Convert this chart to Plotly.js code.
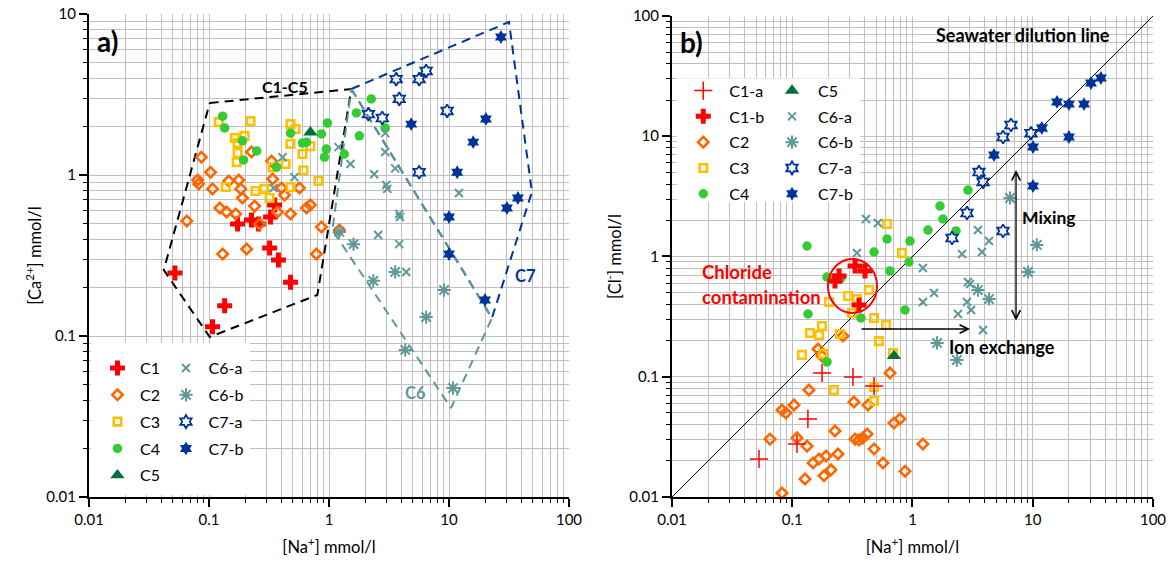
<!DOCTYPE html>
<html><head><meta charset="utf-8">
<script src="https://cdn.plot.ly/plotly-3.0.1.min.js"></script>
<style>html,body{margin:0;padding:0;background:#fff}</style>
</head><body>
<div id="chart" style="width:1176px;height:567px"></div>
<script>
// ================= Panel a) : [Ca2+] vs [Na+] (mmol/l) =================
const aC1Na = [0.052, 0.107, 0.135, 0.173, 0.226, 0.259, 0.326, 0.352, 0.32, 0.379, 0.478];
const aC1Ca = [0.246, 0.114, 0.154, 0.496, 0.525, 0.496, 0.548, 0.652, 0.352, 0.297, 0.216];
const aC2Na = [0.0865, 0.103, 0.0805, 0.082, 0.107, 0.146, 0.177, 0.184, 0.19, 0.123, 0.14, 0.167, 0.24, 0.226, 0.332, 0.339, 0.402, 0.426, 0.567, 0.372, 0.478, 0.649, 0.70, 0.264, 0.865, 0.0653, 0.13, 0.206, 0.785, 1.22];
const aC2Ca = [1.29, 1.04, 0.93, 0.88, 0.82, 0.918, 0.93, 0.82, 0.72, 0.624, 0.589, 0.573, 0.641, 1.39, 1.22, 0.944, 0.83, 0.75, 0.83, 0.589, 0.573, 0.624, 0.652, 0.496, 0.475, 0.518, 0.323, 0.347, 0.323, 0.455];
const aC3Na = [0.1205, 0.222, 0.198, 0.164, 0.173, 0.173, 0.17, 0.478, 0.526, 0.478, 0.601, 0.70, 0.435, 0.339, 0.612, 0.817, 0.478, 0.244, 0.29, 0.32, 0.138];
const aC3Ca = [2.13, 2.16, 1.75, 1.70, 1.58, 1.37, 1.20, 2.07, 1.93, 1.56, 1.35, 1.51, 1.17, 1.12, 1.07, 0.918, 0.842, 0.795, 0.82, 0.72, 0.842];
const aC4Na = [0.13, 0.135, 0.19, 0.25, 0.194, 0.366, 0.478, 0.97, 0.865, 0.601, 0.649, 0.95, 0.917, 1.34, 1.79, 1.69, 2.25, 2.94];
const aC4Ca = [2.32, 1.96, 1.63, 1.41, 1.24, 1.12, 1.82, 2.10, 1.80, 1.58, 1.60, 1.45, 1.29, 1.35, 1.75, 2.43, 2.97, 1.96];
const aC5Na = [0.70];
const aC5Ca = [1.84];
const aC6aNa = [0.41, 0.515, 0.345, 1.20, 1.51, 2.94, 2.38, 3.56, 3.0, 3.06, 3.85, 3.9, 2.57, 3.85, 4.4, 12.1, 2.94];
const aC6aCa = [1.29, 0.97, 0.83, 1.49, 1.17, 1.39, 1.01, 1.10, 0.867, 0.82, 0.573, 0.548, 0.424, 0.372, 0.25, 0.773, 1.82];
const aC6bNa = [1.22, 1.60, 2.34, 3.56, 9.1, 6.45, 4.32, 10.8];
const aC6bCa = [0.443, 0.372, 0.22, 0.25, 0.193, 0.131, 0.0819, 0.0475];
const aC7aNa = [3.63, 5.64, 6.45, 3.85, 2.13, 2.78, 9.64, 5.64];
const aC7aCa = [3.94, 3.94, 4.43, 2.97, 2.39, 2.26, 2.50, 1.04];
const aC7bNa = [27.1, 4.84, 20.3, 15.9, 11.7, 37.5, 30.4, 10.0, 10.0, 19.95];
const aC7bCa = [7.2, 2.07, 2.23, 1.60, 1.04, 0.72, 0.624, 0.548, 0.323, 0.1675];
// group outlines (panel a)
const zoneC15Na = [0.1014, 1.535, 0.80, 0.1014, 0.042, 0.1014];
const zoneC15Ca = [2.80, 3.42, 0.18, 0.0986, 0.257, 2.80];
const zoneC6Na = [1.535, 22.8, 10.4, 1.067, 1.535];
const zoneC6Ca = [3.42, 0.1294, 0.0357, 0.455, 3.42];
const zoneC7Na = [1.535, 31.6, 49.1, 22.8, 1.535];
const zoneC7Ca = [3.42, 8.92, 0.784, 0.1294, 3.42];

// ================= Panel b) : [Cl-] vs [Na+] (mmol/l) =================
const bC1aNa = [0.0529, 0.135, 0.1095, 0.177, 0.32, 0.479];
const bC1aCl = [0.0207, 0.0446, 0.0276, 0.1074, 0.0995, 0.0838];
const bC1bNa = [0.2267, 0.245, 0.333, 0.403, 0.359];
const bC1bCl = [0.625, 0.689, 0.834, 0.758, 0.395];
const bC2Na = [0.1377, 0.1034, 0.0822, 0.0887, 0.0653, 0.1095, 0.1327, 0.2267, 0.326, 0.4266, 0.650, 0.333, 0.359, 0.387, 0.419, 0.479, 0.701, 0.787, 1.22, 0.569, 0.867, 0.191, 0.167, 0.149, 0.240, 0.21, 0.1837, 0.1277, 0.0822, 0.1637, 0.1766, 0.264];
const bC2Cl = [0.0776, 0.0582, 0.0529, 0.050, 0.0303, 0.031, 0.0265, 0.0354, 0.0617, 0.0582, 0.1074, 0.0303, 0.0298, 0.031, 0.0334, 0.0251, 0.0412, 0.0446, 0.0276, 0.0192, 0.0164, 0.0219, 0.0207, 0.0192, 0.0228, 0.0168, 0.015, 0.0141, 0.0108, 0.170, 0.149, 0.218];
const bC3Na = [0.614, 0.818, 0.434, 0.291, 0.345, 0.202, 0.479, 0.603, 0.1766, 0.1405, 0.167, 0.249, 0.526, 0.1205, 0.180, 0.222, 0.479, 0.479, 0.689, 0.314];
const bC3Cl = [1.862, 1.069, 0.526, 0.47, 0.443, 0.418, 0.308, 0.269, 0.264, 0.231, 0.222, 0.227, 0.198, 0.152, 0.155, 0.0776, 0.0822, 0.0629, 0.1575, 0.339];
const bC4Na = [0.1327, 0.1945, 0.2543, 0.1352, 0.373, 0.1945, 0.614, 0.479, 0.650, 0.867, 0.953, 0.935, 1.345, 2.30, 1.793, 1.693, 2.893];
const bC4Cl = [1.223, 0.675, 0.662, 0.3325, 0.308, 0.1327, 1.398, 1.09, 0.758, 0.359, 1.345, 0.90, 1.66, 1.63, 2.05, 2.63, 3.57];
const bC5Na = [0.701];
const bC5Cl = [0.149];
const bC6aNa = [0.4106, 0.516, 0.345, 1.22, 1.51, 1.22, 3.50, 4.33, 2.58, 3.78, 2.893, 3.01, 2.84, 3.07, 2.39, 3.86, 12.2];
const bC6aCl = [2.05, 1.90, 1.069, 0.802, 0.497, 0.418, 1.66, 1.345, 1.05, 1.09, 0.614, 0.59, 0.418, 0.359, 0.3325, 0.245, 11.7];
const bC6bNa = [6.47, 10.8, 9.13, 3.5, 4.33, 1.60, 2.34];
const bC6bCl = [3.065, 1.247, 0.743, 0.526, 0.443, 0.191, 0.1377];
const bC7aNa = [6.59, 5.66, 9.67, 3.57, 3.86, 2.84, 5.66, 2.13];
const bC7aCl = [12.4, 9.86, 10.6, 5.04, 4.17, 2.30, 1.63, 1.425];
const bC7bNa = [36.9, 30.5, 15.9, 20.0, 26.7, 11.9, 10.05, 20.0, 4.76, 10.05];
const bC7bCl = [30.5, 27.7, 19.3, 18.5, 18.5, 11.7, 8.14, 9.86, 6.98, 3.86];
// seawater dilution line
const seawaterNa = [0.01, 100];
const seawaterCl = [0.01, 100];

// ticks
const xTickVals = [0.01, 0.1, 1, 10, 100];
const xTickText = ['0.01', '0.1', '1', '10', '100'];
const yaTickVals = [0.01, 0.1, 1, 10];
const yaTickText = ['0.01', '0.1', '1', '10'];
const ybTickVals = [0.01, 0.1, 1, 10, 100];
const ybTickText = ['0.01', '0.1', '1', '10', '100'];

// ---------------- styling ----------------
const FONT = 'Lato, "Open Sans", sans-serif';
const COL = {red: '#ff0000', orange: '#ff6600', yellow: '#ffc000', green: '#33cc33',
  dkgreen: '#00703c', teal: '#5f9898', blue: '#003399', grid: '#c0c0c0'};
const MK = {
  C1: {symbol: 'cross', size: 12.5, color: COL.red},
  C1a: {symbol: 'cross-thin-open', size: 13, color: COL.red, line: {width: 1.5, color: COL.red}},
  C2: {symbol: 'diamond-open', size: 8, color: COL.orange, line: {width: 2.6, color: COL.orange}},
  C3: {symbol: 'square-open', size: 7.5, color: COL.yellow, line: {width: 2.6, color: COL.yellow}},
  C4: {symbol: 'circle', size: 9.5, color: COL.green},
  C5: {symbol: 'triangle-up', size: 12.5, color: COL.dkgreen},
  C6a: {symbol: 'x-thin-open', size: 8, color: COL.teal, line: {width: 2, color: COL.teal}},
  C6b: {symbol: 'asterisk-open', size: 11, color: COL.teal, line: {width: 2, color: COL.teal}},
  C7a: {symbol: 'hexagram-open', size: 10, color: COL.blue, line: {width: 1.8, color: COL.blue}},
  C7b: {symbol: 'hexagram', size: 10.5, color: COL.blue}
};

function pts(name, x, y, mk, xa, ya, legend, rank) {
  return {type: 'scatter', mode: 'markers', name: name, x: x, y: y, marker: mk,
    xaxis: xa, yaxis: ya, legend: legend, legendgroup: legend + name, legendrank: rank,
    cliponaxis: false, hoverinfo: 'x+y+name'};
}
function zone(x, y, color) {
  return {type: 'scatter', mode: 'lines', x: x, y: y, xaxis: 'x', yaxis: 'y', showlegend: false,
    line: {color: color, width: 2, dash: '9px,6px'}, hoverinfo: 'skip'};
}

const traces = [
  zone(zoneC15Na, zoneC15Ca, '#000000'),
  zone(zoneC7Na, zoneC7Ca, COL.blue),
  zone(zoneC6Na, zoneC6Ca, COL.teal),
  pts('C1', aC1Na, aC1Ca, MK.C1, 'x', 'y', 'legend', 1),
  pts('C2', aC2Na, aC2Ca, MK.C2, 'x', 'y', 'legend', 2),
  pts('C3', aC3Na, aC3Ca, MK.C3, 'x', 'y', 'legend', 3),
  pts('C4', aC4Na, aC4Ca, MK.C4, 'x', 'y', 'legend', 4),
  pts('C5', aC5Na, aC5Ca, MK.C5, 'x', 'y', 'legend', 5),
  pts('C6-a', aC6aNa, aC6aCa, MK.C6a, 'x', 'y', 'legend2', 1),
  pts('C6-b', aC6bNa, aC6bCa, MK.C6b, 'x', 'y', 'legend2', 2),
  pts('C7-a', aC7aNa, aC7aCa, MK.C7a, 'x', 'y', 'legend2', 3),
  pts('C7-b', aC7bNa, aC7bCa, MK.C7b, 'x', 'y', 'legend2', 4),
  {type: 'scatter', mode: 'lines', x: seawaterNa, y: seawaterCl, xaxis: 'x2', yaxis: 'y2',
    showlegend: false, line: {color: '#000', width: 1}, hoverinfo: 'skip'},
  pts('C2', bC2Na, bC2Cl, MK.C2, 'x2', 'y2', 'legend3', 3),
  pts('C3', bC3Na, bC3Cl, MK.C3, 'x2', 'y2', 'legend3', 4),
  pts('C4', bC4Na, bC4Cl, MK.C4, 'x2', 'y2', 'legend3', 5),
  pts('C5', bC5Na, bC5Cl, MK.C5, 'x2', 'y2', 'legend4', 1),
  pts('C6-a', bC6aNa, bC6aCl, MK.C6a, 'x2', 'y2', 'legend4', 2),
  pts('C6-b', bC6bNa, bC6bCl, MK.C6b, 'x2', 'y2', 'legend4', 3),
  pts('C7-a', bC7aNa, bC7aCl, MK.C7a, 'x2', 'y2', 'legend4', 4),
  pts('C7-b', bC7bNa, bC7bCl, MK.C7b, 'x2', 'y2', 'legend4', 5),
  pts('C1-a', bC1aNa, bC1aCl, MK.C1a, 'x2', 'y2', 'legend3', 1),
  pts('C1-b', bC1bNa, bC1bCl, MK.C1, 'x2', 'y2', 'legend3', 2)
];

function minorVals(lo, hi) {
  const v = [];
  for (let d = lo; d < hi; d++) for (let k = 2; k <= 9; k++) v.push(parseFloat((k * Math.pow(10, d)).toPrecision(3)));
  return v;
}
function logAxis(range, tv, tt, domain, anchor, titleText, standoff) {
  return {type: 'log', range: range, domain: domain, anchor: anchor,
    tickmode: 'array', tickvals: tv, ticktext: tt,
    ticks: 'outside', ticklen: 8, tickwidth: 1.5, tickcolor: '#000',
    showline: true, linecolor: '#000', linewidth: 2,
    showgrid: true, gridcolor: COL.grid, gridwidth: 1.3, zeroline: false,
    tickfont: {family: FONT, size: 15, color: '#000'},
    minor: {tickmode: 'array', tickvals: minorVals(range[0], range[1]), ticks: 'outside', ticklen: 4,
      tickwidth: 1, tickcolor: '#000', showgrid: true, gridcolor: COL.grid, gridwidth: 1.3},
    title: {text: titleText, font: {family: FONT, size: 16.5, color: '#000'}, standoff: standoff},
    automargin: false, fixedrange: true};
}
const L = Math.log10;
const boldTxt = (size, color) => ({family: FONT, size: size, color: color, weight: 700});

const layout = {
  width: 1176, height: 567,
  margin: {l: 89, r: 23, t: 14, b: 70},
  paper_bgcolor: '#ffffff', plot_bgcolor: '#ffffff',
  font: {family: FONT, size: 15, color: '#000'},
  xaxis: logAxis([-2, 2], xTickVals, xTickText, [0, 0.45113], 'y', '[Na<sup>+</sup>] mmol/l', 14),
  yaxis: logAxis([-2, 1], yaTickVals, yaTickText, [0, 1], 'x', '[Ca<sup>2+</sup>] mmol/l', 1),
  xaxis2: logAxis([-2, 2], xTickVals, xTickText, [0.54793, 1], 'y2', '[Na<sup>+</sup>] mmol/l', 14),
  yaxis2: logAxis([-2, 2], ybTickVals, ybTickText, [0, 0.99586], 'x2', '[Cl<sup>-</sup>] mmol/l', 4),
  showlegend: true,
  legend: {x: 0.0056, y: 0.302, xanchor: 'left', yanchor: 'top', bgcolor: 'rgba(0,0,0,0)',
    itemwidth: 35, tracegroupgap: 3, font: {family: FONT, size: 16}, traceorder: 'grouped'},
  legend2: {x: 0.070, y: 0.302, xanchor: 'left', yanchor: 'top', bgcolor: 'rgba(0,0,0,0)',
    itemwidth: 35, tracegroupgap: 3, font: {family: FONT, size: 16}, traceorder: 'grouped'},
  legend3: {x: 0.5529, y: 0.8765, xanchor: 'left', yanchor: 'top', bgcolor: 'rgba(0,0,0,0)',
    itemwidth: 42, tracegroupgap: 2, font: {family: FONT, size: 16}, traceorder: 'grouped'},
  legend4: {x: 0.6363, y: 0.8765, xanchor: 'left', yanchor: 'top', bgcolor: 'rgba(0,0,0,0)',
    itemwidth: 42, tracegroupgap: 2, font: {family: FONT, size: 16}, traceorder: 'grouped'},
  shapes: [
    {type: 'rect', xref: 'x domain', yref: 'y domain', x0: 0.004, x1: 0.335, y0: 0.004, y1: 0.319,
      fillcolor: '#ffffff', line: {width: 0}, layer: 'above'},
    {type: 'rect', xref: 'x2 domain', yref: 'y2 domain', x0: 0.0098, x1: 0.391, y0: 0.614, y1: 0.8705,
      fillcolor: '#ffffff', line: {width: 0}, layer: 'above'},
    {type: 'circle', xref: 'x2', yref: 'y2', x0: 0.198, x1: 0.507, y0: 0.339, y1: 0.953,
      line: {color: COL.red, width: 2}, fillcolor: 'rgba(0,0,0,0)', layer: 'above'}
  ],
  annotations: [
    {xref: 'x domain', yref: 'y domain', x: 0.0125, y: 0.944, xanchor: 'left', yanchor: 'middle',
      text: 'a)', showarrow: false, font: boldTxt(28, '#000')},
    {xref: 'x2 domain', yref: 'y2 domain', x: 0.0125, y: 0.946, xanchor: 'left', yanchor: 'middle',
      text: 'b)', showarrow: false, font: boldTxt(28, '#000')},
    {xref: 'x', yref: 'y', x: L(0.426), y: L(3.57), text: 'C1-C5', showarrow: false, font: boldTxt(16, '#000')},
    {xref: 'x', yref: 'y', x: L(5.23), y: L(0.0443), text: 'C6', showarrow: false, font: boldTxt(16.5, COL.teal)},
    {xref: 'x', yref: 'y', x: L(43.7), y: L(0.236), text: 'C7', showarrow: false, font: boldTxt(16.5, COL.blue)},
    {xref: 'x2', yref: 'y2', x: L(8.3), y: L(69.5), text: 'Seawater dilution line', showarrow: false, font: boldTxt(18, '#000')},
    {xref: 'x2', yref: 'y2', x: L(7.83), y: L(2.09), xanchor: 'left', text: 'Mixing', showarrow: false, font: boldTxt(17.5, '#000')},
    {xref: 'x2', yref: 'y2', x: L(5.55), y: L(0.1767), text: 'Ion exchange', showarrow: false, font: boldTxt(18, '#000')},
    {xref: 'x2', yref: 'y2', x: L(0.0171), y: L(0.743), xanchor: 'left', text: 'Chloride', showarrow: false, font: boldTxt(18.5, COL.red)},
    {xref: 'x2', yref: 'y2', x: L(0.0171), y: L(0.46), xanchor: 'left', text: 'contamination', showarrow: false, font: boldTxt(18.5, COL.red)},
    {xref: 'x2', yref: 'y2', axref: 'x2', ayref: 'y2', x: L(3.01), y: L(0.2495), ax: L(0.366), ay: L(0.2495),
      text: '', showarrow: true, arrowhead: 5, arrowsize: 1.3, arrowwidth: 1.3, arrowcolor: '#000'},
    {xref: 'x2', yref: 'y2', axref: 'x2', ayref: 'y2', x: L(7.26), y: L(5.24), ax: L(7.26), ay: L(0.285),
      text: '', showarrow: true, arrowhead: 5, startarrowhead: 5, arrowside: 'end+start', arrowsize: 1.3, arrowwidth: 1.3, arrowcolor: '#000'}
  ],
  hovermode: 'closest'
};

Plotly.newPlot('chart', traces, layout, {displayModeBar: false, responsive: false});
</script>
</body></html>
